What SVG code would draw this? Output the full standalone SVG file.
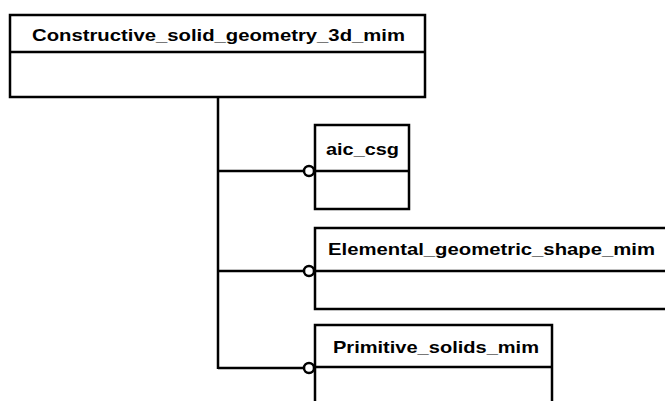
<svg xmlns="http://www.w3.org/2000/svg" width="665" height="401" viewBox="0 0 665 401">
<style>
.box{fill:#fff;stroke:#000;stroke-width:2.5}
.ln{fill:none;stroke:#000;stroke-width:2.5}
.t{font-family:"Liberation Sans",Arial,sans-serif;font-weight:bold;font-size:17px;fill:#000}
.c{fill:#fff;stroke:#000;stroke-width:2.5}
</style>
<rect width="665" height="401" fill="#fff"/>
<g id="connectors">
<path class="ln" d="M218 97 V369"/>
<path class="ln" d="M218 171 H304"/>
<path class="ln" d="M218 271 H304"/>
<path class="ln" d="M218 368 H304"/>
<circle class="c" cx="309" cy="171" r="5"/>
<circle class="c" cx="309" cy="271" r="5"/>
<circle class="c" cx="309" cy="368" r="5"/>
</g>
<g id="n_constructive">
<rect class="box" x="10" y="15" width="415" height="82"/>
<line class="ln" x1="10" y1="52" x2="425" y2="52"/>
<text class="t" x="32" y="41" textLength="373" lengthAdjust="spacingAndGlyphs">Constructive_solid_geometry_3d_mim</text>
</g>
<g id="n_aic_csg">
<rect class="box" x="315" y="125" width="94" height="84"/>
<line class="ln" x1="315" y1="171" x2="409" y2="171"/>
<text class="t" x="326" y="155" textLength="73" lengthAdjust="spacingAndGlyphs">aic_csg</text>
</g>
<g id="n_elemental">
<rect class="box" x="315" y="228" width="360" height="81"/>
<line class="ln" x1="315" y1="271" x2="675" y2="271"/>
<text class="t" x="328" y="255" textLength="327" lengthAdjust="spacingAndGlyphs">Elemental_geometric_shape_mim</text>
</g>
<g id="n_primitive">
<rect class="box" x="315" y="325" width="237" height="90"/>
<line class="ln" x1="315" y1="367" x2="552" y2="367"/>
<text class="t" x="333" y="353" textLength="206" lengthAdjust="spacingAndGlyphs">Primitive_solids_mim</text>
</g>
</svg>
